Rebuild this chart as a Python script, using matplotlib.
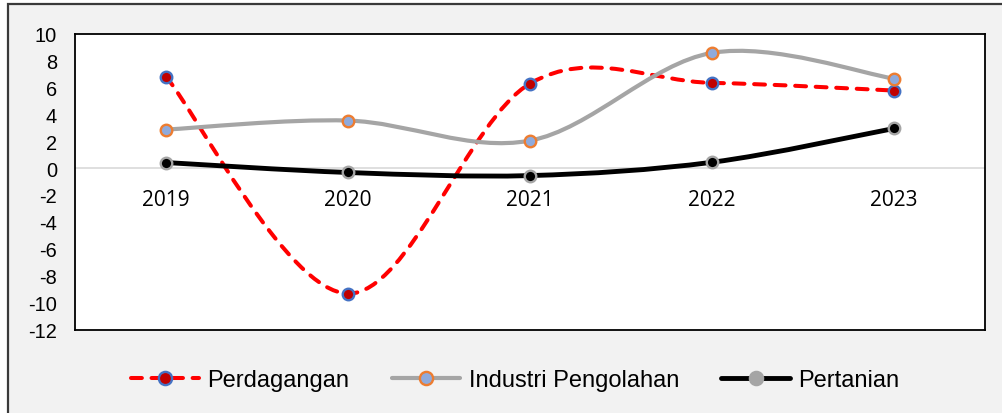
import numpy as np
import matplotlib
matplotlib.use("Agg")
import matplotlib.pyplot as plt
from matplotlib.path import Path
from matplotlib.patches import PathPatch, Rectangle
from matplotlib.lines import Line2D

# Data
years = ["2019", "2020", "2021", "2022", "2023"]
perdagangan = [6.8, -9.33, 6.28, 6.33, 5.76]
industri = [2.86, 3.53, 2.04, 8.56, 6.65]
pertanian = [0.41, -0.33, -0.56, 0.43, 2.94]
y_ticks = [10, 8, 6, 4, 2, 0, -2, -4, -6, -8, -10, -12]


def smooth_path(x, y):
    # Excel-like smoothed line: cubic Bezier segments with Catmull-Rom control points
    pts = np.column_stack([x, y]).astype(float)
    ext = np.vstack([pts[0], pts, pts[-1]])
    verts = [pts[0]]
    codes = [Path.MOVETO]
    for i in range(len(pts) - 1):
        p0, p1, p2, p3 = ext[i], ext[i + 1], ext[i + 2], ext[i + 3]
        c1 = p1 + (p2 - p0) / 6
        c2 = p2 - (p3 - p1) / 6
        verts += [c1, c2, p2]
        codes += [Path.CURVE4] * 3
    return Path(verts, codes)


fig = plt.figure(figsize=(10.03, 4.14), dpi=100, facecolor="white")
fig.patches.append(Rectangle((8 / 1003, -0.1), 1.1, 1 - 5 / 414 + 0.1, transform=fig.transFigure,
                             facecolor="#f2f2f2", edgecolor="#3a3a3a", linewidth=1.6, zorder=-10))

ax = fig.add_axes([75 / 1003, 1 - 330.5 / 414, 910 / 1003, 296 / 414])
ax.set_facecolor("white")
for sp in ax.spines.values():
    sp.set_color("black")
    sp.set_linewidth(1.3)

x = np.arange(len(years))
ax.axhline(0, color="#d9d9d9", linewidth=1.2, zorder=1)

series = [
    (perdagangan, dict(color="#ff0000", lw=2.9, ls=(0, (2.7, 2.4)), capstyle="round"),
     dict(mfc="#c00000", mec="#4472c4"), "Perdagangan"),
    (industri, dict(color="#a5a5a5", lw=3.0, ls="-", capstyle="butt"),
     dict(mfc="#8faadc", mec="#ed7d31"), "Industri Pengolahan"),
    (pertanian, dict(color="black", lw=3.5, ls="-", capstyle="butt"),
     dict(mfc="black", mec="#a5a5a5"), "Pertanian"),
]

handles = []
for vals, lstyle, mstyle, name in series:
    patch = PathPatch(smooth_path(x, vals), facecolor="none", edgecolor=lstyle["color"],
                      linewidth=lstyle["lw"], linestyle=lstyle["ls"], capstyle=lstyle["capstyle"], zorder=3)
    ax.add_patch(patch)
    ax.plot(x, vals, linestyle="none", marker="o", markersize=8.3, markeredgewidth=1.7,
            markerfacecolor=mstyle["mfc"], markeredgecolor=mstyle["mec"], zorder=4)
    if name == "Pertanian":
        mstyle = dict(mfc="#a5a5a5", mec="#a5a5a5")
    handles.append(Line2D([], [], color=lstyle["color"], linewidth=lstyle["lw"], linestyle=lstyle["ls"],
                          dash_capstyle="round", solid_capstyle="round", marker="o", markersize=9.5,
                          markeredgewidth=1.7, markerfacecolor=mstyle["mfc"],
                          markeredgecolor=mstyle["mec"], label=name))

ax.set_xlim(-0.5, len(years) - 0.5)
ax.set_ylim(-12, 10)
ax.set_xticks([])
ax.set_yticks(y_ticks)
ax.set_yticklabels([str(v) for v in y_ticks], fontsize=14.4, fontfamily="Liberation Sans")
ax.tick_params(axis="y", length=0, pad=13)

for i, yr in enumerate(years):
    ax.annotate(yr, (i, 0), xytext=(0, -22.7), textcoords="offset points", ha="center", va="center",
                fontsize=15, fontfamily="Open Sans", color="black")

fig.legend(handles=handles, loc="center", bbox_to_anchor=(515 / 1003, 1 - 381 / 414), ncol=3,
           frameon=False, prop={"family": "Liberation Sans", "size": 17}, handlelength=2.9,
           handletextpad=0.35, columnspacing=1.8, numpoints=1)

fig.savefig("out.png", dpi=100, facecolor=fig.get_facecolor())
